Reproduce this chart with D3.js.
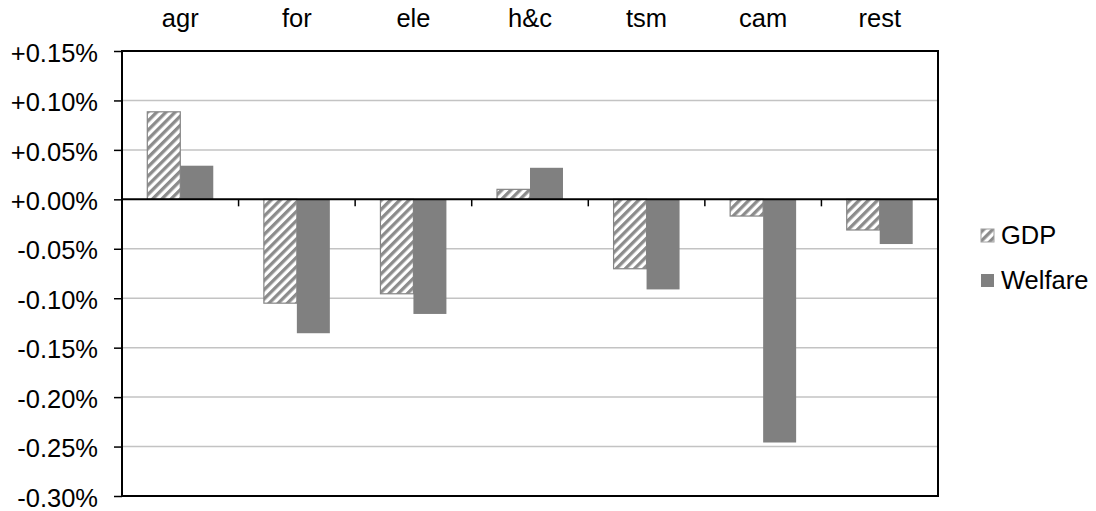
<!DOCTYPE html>
<html>
<head>
<meta charset="utf-8">
<script src="https://cdn.jsdelivr.net/npm/d3@7/dist/d3.min.js"></script>
<style>
  body { margin: 0; background: #fff; }
  svg text { font-family: "Liberation Sans", Arial, sans-serif; fill: #000; }
</style>
</head>
<body>
<svg id="chart" width="1096" height="511"></svg>
<script>
// Sectors and percentage changes (in %)
const categories = ["agr", "for", "ele", "h&c", "tsm", "cam", "rest"];
const gdp     = [0.0885, -0.1050, -0.0955, 0.0101, -0.0702, -0.0169, -0.0310];
const welfare = [0.0340, -0.1354, -0.1159, 0.0319, -0.0911, -0.2459, -0.0452];
const seriesNames = ["GDP", "Welfare"];
const yTicks = [0.15, 0.10, 0.05, 0.00, -0.05, -0.10, -0.15, -0.20, -0.25, -0.30];

const svg = d3.select("#chart");
const plotL = 122, plotR = 938, plotT = 51, plotB = 496;
const fontSize = "25.5px";

// Diagonal hatch used for GDP bars
const defs = svg.append("defs");
const pat = defs.append("pattern")
  .attr("id", "hatch")
  .attr("patternUnits", "userSpaceOnUse")
  .attr("width", 6.5).attr("height", 6.5)
  .attr("patternTransform", "rotate(45)");
pat.append("rect").attr("width", 6.5).attr("height", 6.5).attr("fill", "#ffffff");
pat.append("rect").attr("x", 0).attr("width", 3.3).attr("height", 6.5).attr("fill", "#8c8c8c");

const x = d3.scaleBand().domain(categories).range([plotL, plotR]).paddingInner(0.434).paddingOuter(0.217);
const xs = d3.scaleBand().domain(seriesNames).range([0, x.bandwidth()]);
const y = d3.scaleLinear().domain([-0.30, 0.15]).range([plotB, plotT]);

// Gridlines
svg.append("g").selectAll("line")
  .data(yTicks.filter(t => t !== 0.15 && t !== -0.30 && t !== 0))
  .join("line")
  .attr("x1", plotL).attr("x2", plotR)
  .attr("y1", d => y(d)).attr("y2", d => y(d))
  .attr("stroke", "#c3c3c3").attr("stroke-width", 1.5);

// Bars
const rows = categories.map((c, i) => ({ c, GDP: gdp[i], Welfare: welfare[i] }));
const g = svg.append("g");
rows.forEach(r => {
  seriesNames.forEach(s => {
    const v = r[s];
    const y0 = y(Math.max(0, v)), y1 = y(Math.min(0, v));
    g.append("rect")
      .attr("x", x(r.c) + xs(s))
      .attr("y", y0)
      .attr("width", xs.bandwidth())
      .attr("height", y1 - y0)
      .attr("fill", s === "GDP" ? "url(#hatch)" : "#808080")
      .attr("stroke", s === "GDP" ? "#858585" : "none")
      .attr("stroke-width", 1.2);
  });
});

// Plot frame
svg.append("rect")
  .attr("x", plotL).attr("y", plotT)
  .attr("width", plotR - plotL).attr("height", plotB - plotT)
  .attr("fill", "none").attr("stroke", "#000").attr("stroke-width", 2);

// Y axis with outward ticks
const yAxis = d3.axisLeft(y).tickValues(yTicks).tickSize(8).tickPadding(16)
  .tickFormat(d => (d > 0 || Math.abs(d) < 1e-9 ? "+" : "-") + Math.abs(d).toFixed(2) + "%");
const ya = svg.append("g").attr("transform", `translate(${plotL},0)`).call(yAxis);
ya.select(".domain").remove();
ya.selectAll(".tick line").attr("stroke", "#000").attr("stroke-width", 1.5);
ya.selectAll(".tick text")
  .style("font-size", fontSize)
  .style("font-family", "'Liberation Sans', Arial, sans-serif")
  .attr("dy", "0.4em");

// Zero line with category separator ticks
svg.append("line")
  .attr("x1", plotL).attr("x2", plotR)
  .attr("y1", y(0)).attr("y2", y(0))
  .attr("stroke", "#000").attr("stroke-width", 2);
const sepX = d3.range(1, categories.length).map(i => plotL + i * (plotR - plotL) / categories.length);
svg.append("g").selectAll("line").data(sepX).join("line")
  .attr("x1", d => d).attr("x2", d => d)
  .attr("y1", y(0)).attr("y2", y(0) + 7)
  .attr("stroke", "#000").attr("stroke-width", 1.5);

// Category labels along the top
svg.append("g").selectAll("text").data(categories).join("text")
  .attr("x", d => x(d) + x.bandwidth() / 2)
  .attr("y", 27)
  .attr("text-anchor", "middle")
  .style("font-size", fontSize)
  .text(d => d);

// Legend
const legend = svg.append("g").attr("transform", "translate(981,0)");
seriesNames.forEach((s, i) => {
  const ly = 229 + i * 45;
  legend.append("rect")
    .attr("x", 0).attr("y", ly).attr("width", 13).attr("height", 13)
    .attr("fill", s === "GDP" ? "url(#hatch)" : "#808080")
    .attr("stroke", s === "GDP" ? "#a0a0a0" : "none");
  legend.append("text")
    .attr("x", 20).attr("y", ly + 14.5)
    .style("font-size", fontSize)
    .text(s);
});
</script>
</body>
</html>
